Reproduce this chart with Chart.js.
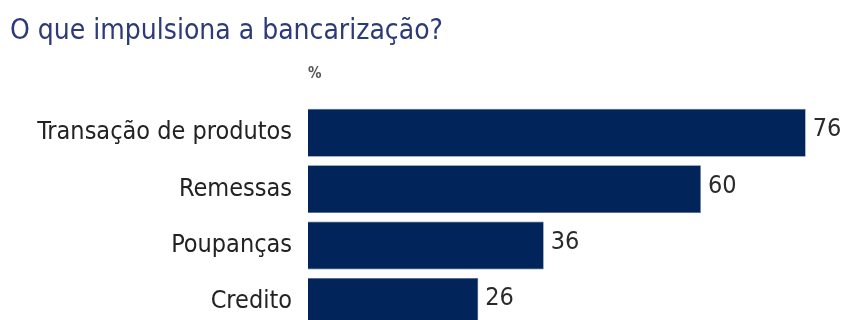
<!DOCTYPE html>
<html>
<head>
<meta charset="utf-8">
<script src="https://cdn.jsdelivr.net/npm/chart.js@4.4.0/dist/chart.umd.min.js"></script>
<style>
  html, body { margin: 0; padding: 0; background: #fff; overflow: hidden; }
  #wrap { position: relative; width: 851px; height: 361px; }
</style>
</head>
<body>
<div id="wrap"><canvas id="bancarizacao"></canvas></div>
<script>
const categorias = ['Transação de produtos', 'Remessas', 'Poupanças', 'Credito'];
const percentuais = [76, 60, 36, 26];

const fonte = "'Liberation Sans Narrow', 'Arial Narrow', 'DejaVu Sans Condensed', sans-serif";

// escreve o valor ao lado de cada barra
const rotulosValor = {
  id: 'rotulosValor',
  afterDatasetsDraw(chart) {
    const ctx = chart.ctx;
    const meta = chart.getDatasetMeta(0);
    ctx.save();
    ctx.font = '25px ' + fonte;
    ctx.fillStyle = '#2a2a2a';
    ctx.textAlign = 'left';
    ctx.textBaseline = 'middle';
    meta.data.forEach((bar, i) => {
      ctx.fillText(percentuais[i], bar.x + 7, bar.y - 3);
    });
    ctx.restore();
  }
};

const ctx = document.getElementById('bancarizacao').getContext('2d');

new Chart(ctx, {
  type: 'bar',
  data: {
    labels: categorias,
    datasets: [{
      label: '%',
      data: percentuais,
      backgroundColor: '#01255b',
      borderColor: '#5a6f95',
      borderWidth: 0.6,
      barPercentage: 1,
      categoryPercentage: 0.85
    }]
  },
  plugins: [rotulosValor],
  options: {
    indexAxis: 'y',
    responsive: true,
    maintainAspectRatio: false,
    animation: false,
    layout: {
      padding: { left: 10, right: 6, top: 0, bottom: 0 }
    },
    plugins: {
      legend: { display: false },
      tooltip: { enabled: false },
      title: {
        display: true,
        text: 'O que impulsiona a bancarização?',
        align: 'start',
        color: '#2d3a78',
        font: { family: fonte, size: 28, weight: 'normal' },
        padding: { top: 15, bottom: 13 }
      }
    },
    scales: {
      x: {
        position: 'top',
        min: 0,
        max: 82,
        grid: { display: false, drawTicks: false },
        border: { display: false },
        ticks: { display: false },
        title: {
          display: true,
          text: '%',
          align: 'start',
          color: '#555',
          font: { family: fonte, size: 15, weight: 'bold' },
          padding: { top: 4, bottom: 21 }
        }
      },
      y: {
        grid: { display: false, drawTicks: false },
        border: { display: false },
        ticks: {
          color: '#222',
          padding: 16,
          font: { family: fonte, size: 25 }
        },
        afterFit(scale) {
          scale.width = 298;
        }
      }
    }
  }
});
</script>
</body>
</html>
